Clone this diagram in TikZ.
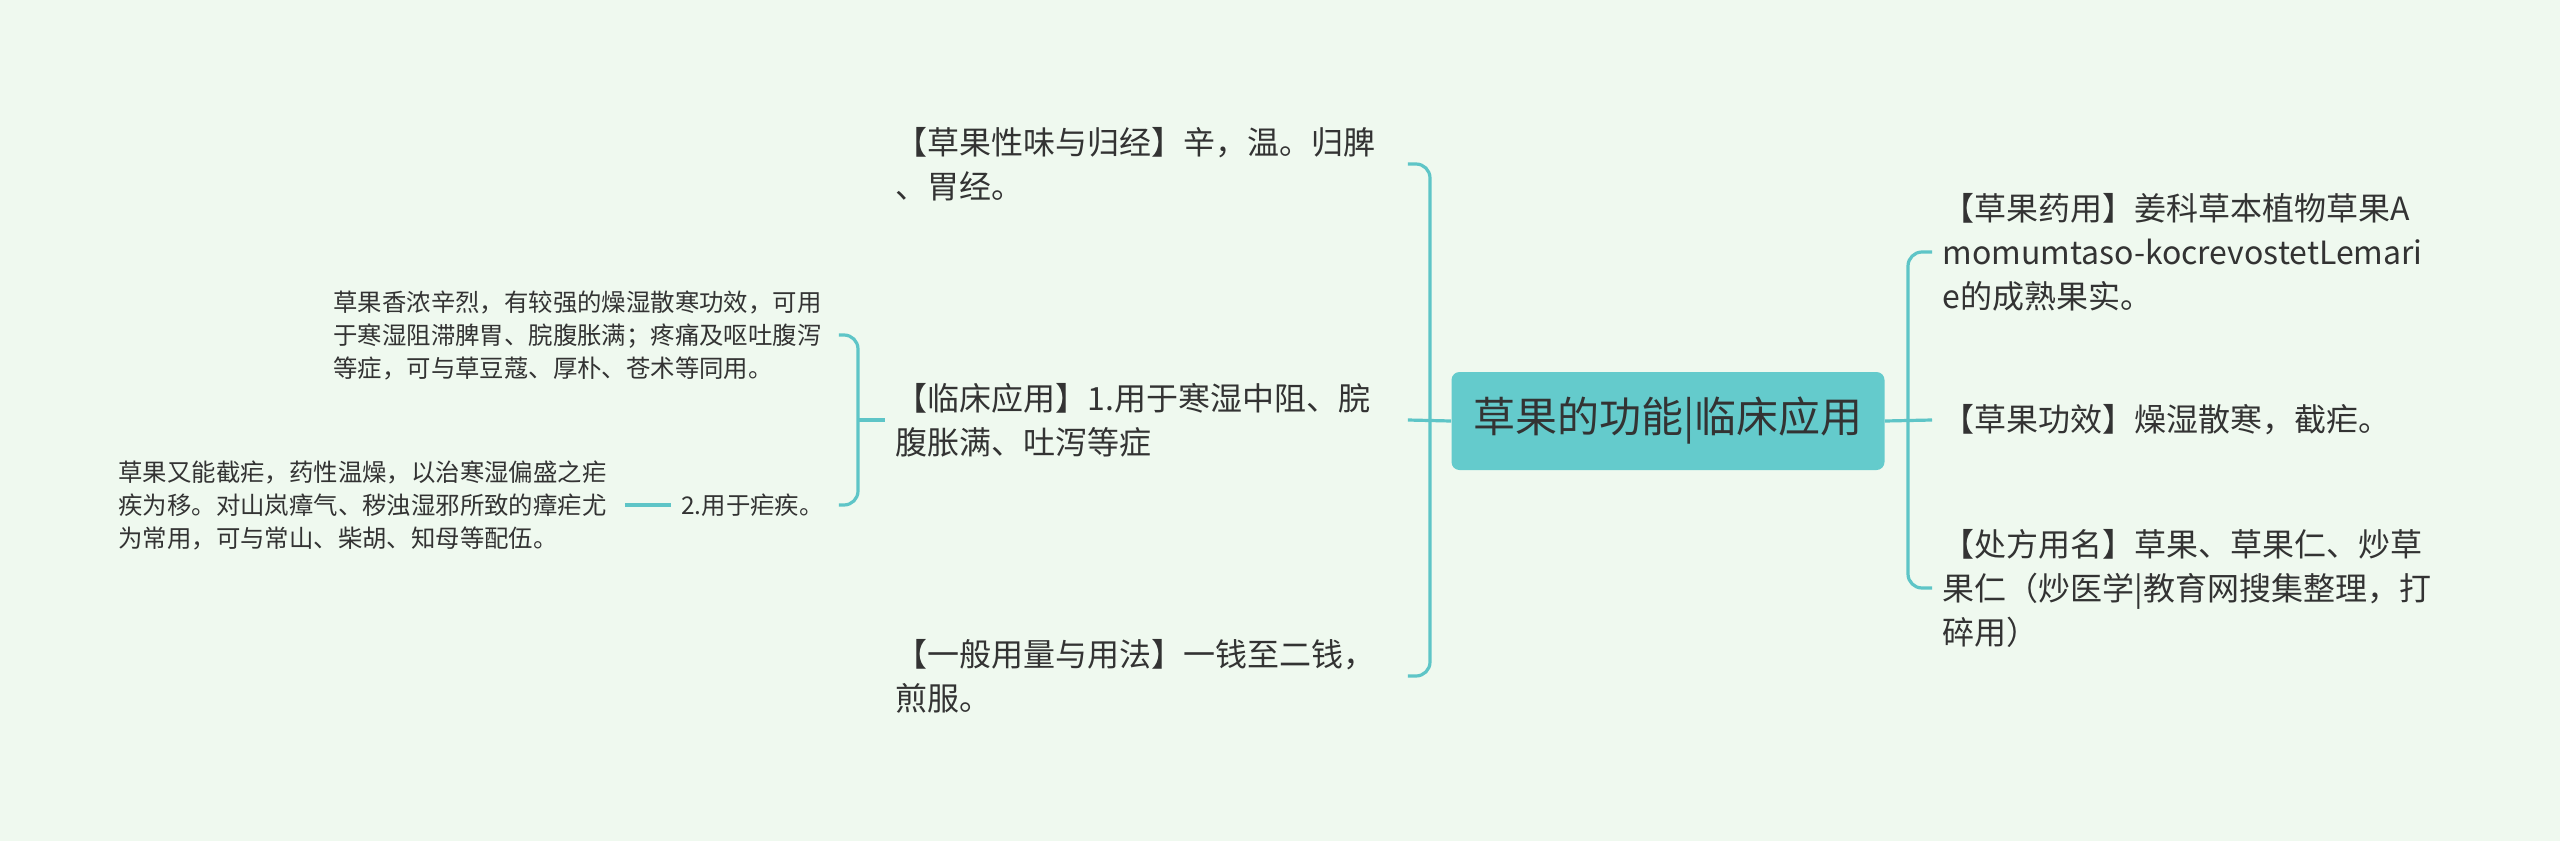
\documentclass[tikz,border=0pt]{standalone}
\usepackage{fontspec}
\setmainfont{Noto Sans CJK SC}
\usetikzlibrary{
  calc,       % 坐标计算
  positioning % 节点相对定位
}
\definecolor{bgmint}{HTML}{EFF9EF}
\definecolor{tealline}{HTML}{5EC5C7}
\definecolor{rootfill}{HTML}{64CBCC}
\definecolor{inkgray}{HTML}{333333}
\tikzset{
  link/.style={line width=1.6pt, tealline, rounded corners=7pt},
  topic/.style={anchor=west, align=left, inner xsep=5pt, inner ysep=0pt,
    text=inkgray, font=\fontsize{16pt}{22pt}\selectfont},
  detail/.style={topic, font=\fontsize{12.2pt}{16.5pt}\selectfont},
  rootbox/.style={fill=rootfill, rounded corners=4pt, minimum width=216.5pt,
    minimum height=49pt, text=inkgray, font=\fontsize{21pt}{24pt}\selectfont}
}

\begin{document}
\begin{tikzpicture}[x=0.5pt, y=-0.5pt]

  % =========== 画布与背景 ===========
  \fill[bgmint] (0,0) rectangle (2560,841);
  \useasboundingbox (0,0) rectangle (2560,841);

  % =========== 汇合点 ===========
  \coordinate (lbus) at (1430,420);
  \coordinate (rbus) at (1908,420);
  \coordinate (sbus) at (858,420);

  % =========== 中心主题 ===========
  \node[rootbox] (root) at (1668,421) {草果的功能|临床应用};

  % =========== 左侧分支 ===========
  \node[topic, text width=251pt] (wei) at (885,164)
    {【草果性味与归经】辛，温。归脾\\、胃经。};
  \node[topic, text width=251pt] (linchuang) at (885,420)
    {【临床应用】1.用于寒湿中阻、脘\\腹胀满、吐泻等症};
  \node[topic, text width=251pt] (yongliang) at (885,676)
    {【一般用量与用法】一钱至二钱，\\煎服。};

  % 临床应用的下级
  \node[detail, text width=247.5pt] (xiangnong) at (323,335)
    {草果香浓辛烈，有较强的燥湿散寒功效，可用\\于寒湿阻滞脾胃、脘腹胀满；疼痛及呕吐腹泻\\等症，可与草豆蔻、厚朴、苍术等同用。};
  \node[detail, text width=73.5pt] (nueji) at (671,505) {2.用于疟疾。};
  \node[detail, text width=248pt] (jienue) at (108,505)
    {草果又能截疟，药性温燥，以治寒湿偏盛之疟\\疾为移。对山岚瘴气、秽浊湿邪所致的瘴疟尤\\为常用，可与常山、柴胡、知母等配伍。};

  % =========== 右侧分支 ===========
  \node[topic, text width=270pt] (yaoyong) at (1932,252)
    {【草果药用】姜科草本植物草果A\\momumtaso-kocrevostetLemari\\e的成熟果实。};
  \node[topic, text width=270pt] (gongxiao) at (1932,420)
    {【草果功效】燥湿散寒，截疟。};
  \node[topic, text width=270pt] (chufang) at (1932,588)
    {【处方用名】草果、草果仁、炒草\\果仁（炒医学|教育网搜集整理，打\\碎用）};

  % =========== 连线 ===========
  \draw[link] (wei.east) -| (lbus) |- (yongliang.east);
  \draw[link] (linchuang.east) -- (root.west);
  \draw[link] (yaoyong.west) -| (rbus) |- (chufang.west);
  \draw[link] (root.east) -- (gongxiao.west);
  \draw[link] (xiangnong.east) -| (sbus) |- (nueji.east);
  \draw[link] (sbus) -- (linchuang.west);
  \draw[link] (jienue.east) -- (nueji.west);

\end{tikzpicture}
\end{document}
